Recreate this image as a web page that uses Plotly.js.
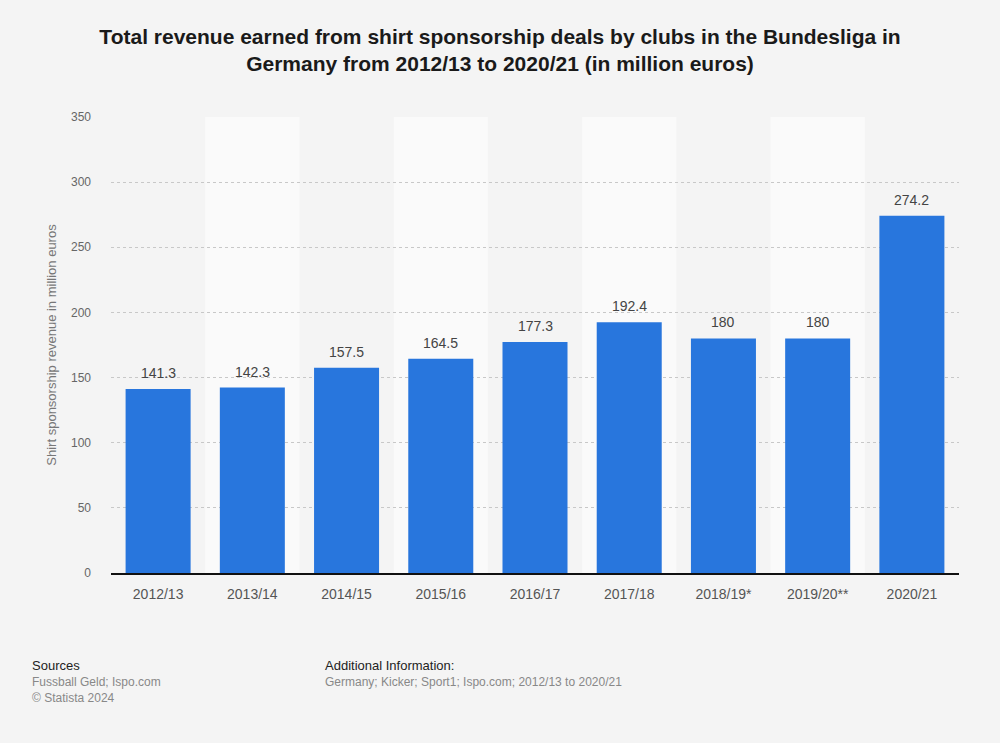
<!DOCTYPE html>
<html>
<head>
<meta charset="utf-8">
<script src="https://cdn.plot.ly/plotly-3.0.1.min.js"></script>
<style>
html,body{margin:0;padding:0;background:#f4f4f4;}
#chart{width:1000px;height:743px;}
</style>
</head>
<body>
<div id="chart"></div>
<script>
const seasons = ["2012/13","2013/14","2014/15","2015/16","2016/17","2017/18","2018/19*","2019/20**","2020/21"];
const revenue = [141.3, 142.3, 157.5, 164.5, 177.3, 192.4, 180, 180, 274.2];
const valueLabels = ["141.3","142.3","157.5","164.5","177.3","192.4","180","180","274.2"];
const yTicks = [0, 50, 100, 150, 200, 250, 300, 350];

const bandShapes = seasons.map((s, i) => i % 2 === 1 ? {
  type: 'rect', xref: 'x', yref: 'paper', x0: i - 0.5, x1: i + 0.5, y0: 0, y1: 1,
  fillcolor: '#fafafa', line: {width: 0}, layer: 'below'
} : null).filter(Boolean);

const trace = {
  type: 'bar',
  x: seasons,
  y: revenue,
  marker: {color: '#2876dd'},
  hoverinfo: 'x+y'
};

const baseFont = 'Liberation Sans, Arial, sans-serif';
const valueAnnotations = seasons.map((s, i) => ({
  text: valueLabels[i], x: s, y: revenue[i], xref: 'x', yref: 'y',
  xanchor: 'center', yanchor: 'middle', yshift: 16, showarrow: false,
  font: {family: baseFont, size: 14, color: '#444444'}
}));

const footAnn = (text, x, y, size, color) => ({
  text: text, xref: 'paper', yref: 'paper', x: x, y: y, xanchor: 'left', yanchor: 'middle',
  showarrow: false, font: {family: baseFont, size: size, color: color}
});

const layout = {
  width: 1000, height: 743,
  paper_bgcolor: '#f4f4f4',
  plot_bgcolor: '#f4f4f4',
  margin: {l: 111, r: 41, t: 117, b: 170},
  bargap: 0.31,
  showlegend: false,
  font: {family: baseFont, color: '#666666'},
  title: {
    text: 'Total revenue earned from shirt sponsorship deals by clubs in the Bundesliga in<br>Germany from 2012/13 to 2020/21 (in million euros)',
    font: {family: baseFont, size: 21, color: '#1a1a1a', weight: 'bold'},
    x: 0.5, xanchor: 'center', y: 0.9408, yanchor: 'middle'
  },
  xaxis: {
    type: 'category',
    range: [-0.5, seasons.length - 0.5],
    showgrid: false,
    showline: true, linecolor: '#111111', linewidth: 1.5,
    ticks: '', ticklen: 0, ticklabelstandoff: 8,
    tickfont: {size: 14, color: '#555555'},
    fixedrange: true
  },
  yaxis: {
    range: [0, 350],
    tickvals: yTicks,
    ticktext: yTicks.map(String),
    showgrid: true, gridcolor: '#c8c8c8', griddash: 'dot', gridwidth: 1,
    zeroline: false, showline: false,
    ticks: '', ticklabelstandoff: 19,
    tickfont: {size: 12, color: '#666666'},
    title: {text: 'Shirt sponsorship revenue in million euros', font: {size: 13, color: '#777777'}, standoff: 11},
    fixedrange: true
  },
  shapes: bandShapes,
  annotations: valueAnnotations.concat([
    footAnn('Sources', -0.095, -0.2018, 13, '#222222'),
    footAnn('Fussball Geld; Ispo.com', -0.095, -0.239, 12, '#888888'),
    footAnn('© Statista 2024', -0.095, -0.274, 12, '#888888'),
    footAnn('Additional Information:', 0.250, -0.2018, 13, '#222222'),
    footAnn('Germany; Kicker; Sport1; Ispo.com; 2012/13 to 2020/21', 0.250, -0.239, 12, '#888888')
  ])
};

Plotly.newPlot('chart', [trace], layout, {displayModeBar: false, staticPlot: true});
</script>
</body>
</html>
